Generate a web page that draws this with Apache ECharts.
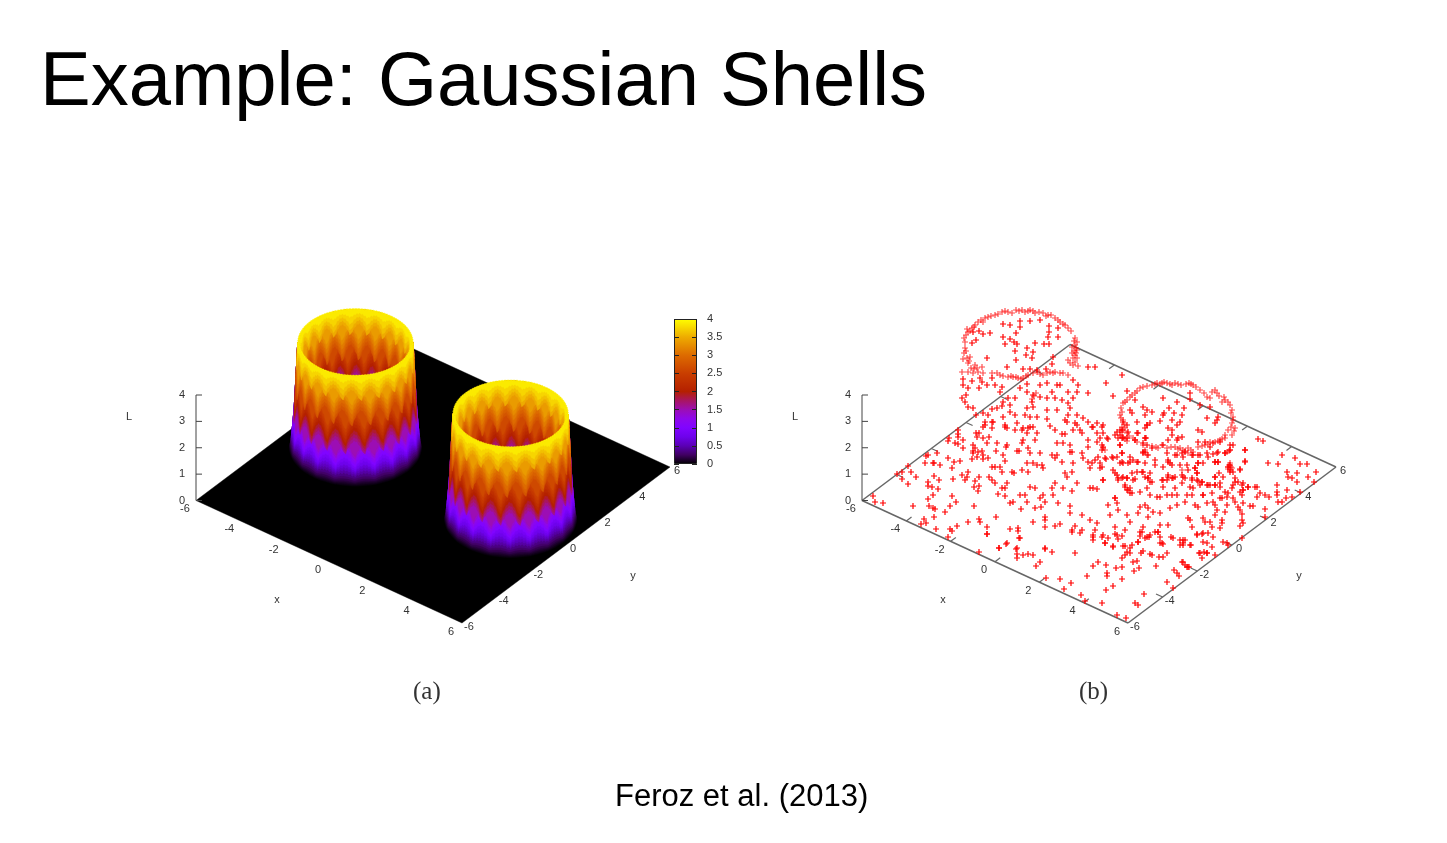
<!DOCTYPE html>
<html><head><meta charset="utf-8">
<style>html,body{margin:0;padding:0;background:#fff}#c{width:1447px;height:843px}</style>
<script src="https://cdn.jsdelivr.net/npm/echarts@6/dist/echarts.min.js"></script></head>
<body><div id="c"></div><script>
const xTicks=[-6,-4,-2,0,2,4,6];
const yTicks=[-6,-4,-2,0,2,4,6];
const lTicks=[0,1,2,3,4];
const shellCentresX=[-3.5,3.5];
const shellCentresY=[0,0];
const profileL=[0,0.25,0.5,1,1.5,2,3,4];
const profileOuterR=[2.36,2.3,2.27,2.22,2.18,2.15,2.1,2.05];
const profileInnerR=[1.7,1.72,1.75,1.8,1.82,1.85,1.9,1.98];
const wallLevels=[0.03,0.06,0.1,0.15,0.2,0.27,0.35,0.45,0.55,0.65,0.75,0.875,1,1.125,1.25,1.375,1.5,1.625,1.75,1.875,2,2.125,2.25,2.375,2.5,2.625,2.75,2.875,3,3.125,3.25,3.375,3.5,3.625,3.75,3.875];
const archShape=[0,0.3,0.55,0.75,0.9,1,1,0.9,0.75,0.55,0.3,0];
const archAmpL=[0,0.5,1,2,3,3.7,4];
const archAmp=[0,0.1,0.3,0.55,0.55,0.3,0];
const archPhaseL=[1.6,2.7,3.5,4.1];
const archPhase=[0,6,2,8];
const paletteL=[0,0.25,0.5,0.75,1,1.25,1.5,1.75,2,2.5,3,3.5,4];
const paletteRGB=[[0,0,0],[64,0,97],[90,0,180],[110,2,235],[128,4,255],[142,8,235],[156,14,180],[168,21,98],[180,32,0],[201,62,0],[221,107,0],[238,171,0],[255,255,0]];
const colourbarTicks=4;
// samples, in picture units
const ringSamples=[[965,342],[966,335],[968,332],[972,328],[975,325],[978,322],[985,318],[988,317],[995,315],[1005,311],[1012,313],[1016,310],[1022,310],[1025,312],[1030,310],[1035,313],[1043,313],[1048,315],[1055,318],[1060,322],[1065,325],[1068,328],[964,338],[967,329],[970,331],[974,327],[981,320],[983,322],[991,316],[998,314],[1002,312],[1008,312],[1019,311],[1028,311],[1033,311],[1039,312],[1046,316],[1051,315],[1058,320],[1063,324],[1071,331],[965,348],[964,353],[967,358],[963,359],[970,357],[968,363],[971,368],[975,365],[977,368],[982,367],[978,372],[983,373],[962,372],[968,372],[973,373],[966,351],[969,361],[974,369],[992,373],[997,373],[1003,376],[1008,377],[1013,377],[1018,378],[1023,378],[1028,375],[1037,372],[1043,375],[1050,372],[1055,372],[1060,373],[1068,375],[1000,375],[1011,376],[1016,377],[1021,379],[1026,376],[1033,373],[1040,374],[1047,373],[1053,373],[1063,373],[1075,338],[1077,342],[1075,345],[1072,347],[1077,350],[1072,353],[1075,355],[1077,358],[1070,363],[1073,365],[1078,366],[1068,360],[1074,341],[1076,348],[1074,351],[1076,353],[1073,358],[1075,362],[1152,385],[1157,383],[1162,383],[1167,383],[1172,385],[1178,384],[1189,383],[1193,385],[1215,390],[1217,393],[1207,397],[1210,398],[1225,400],[1228,402],[1222,402],[1232,410],[1233,417],[1232,423],[1235,428],[1228,430],[1232,435],[1225,435],[1155,384],[1160,384],[1164,382],[1170,384],[1175,383],[1181,385],[1186,384],[1191,384],[1196,387],[1200,390],[1204,393],[1212,392],[1219,396],[1224,397],[1230,405],[1231,413],[1233,420],[1231,427],[1234,431],[1143,387],[1140,388],[1135,393],[1132,395],[1127,400],[1123,403],[1122,412],[1120,415],[1123,420],[1122,427],[1125,428],[1122,432],[1127,433],[1133,438],[1137,442],[1145,438],[1143,445],[1145,450],[1147,455],[1158,448],[1162,445],[1167,448],[1147,386],[1137,391],[1130,397],[1125,402],[1121,408],[1121,418],[1124,424],[1123,430],[1129,436],[1135,440],[1175,447],[1180,448],[1183,450],[1188,448],[1193,452],[1188,453],[1198,447],[1205,445],[1210,442],[1215,442],[1220,440],[1225,438],[1227,452],[1230,450],[1171,447],[1178,449],[1185,451],[1191,450],[1202,446],[1208,444],[1218,441],[1222,439],[1229,451],[1152,446],[1156,447],[1229,465],[1231,467],[1228,469],[1230,463],[1232,468],[1228,467],[1182,470],[1125,439],[1127,441],[1123,437],[1105,450],[1103,448],[1036,393],[1034,396],[1032,399]];
const floorSamples=[[973,332],[979,331],[983,334],[990,333],[976,340],[972,343],[1003,324],[1010,325],[1020,327],[1020,321],[1030,321],[1040,320],[1049,326],[1058,328],[1049,332],[1048,337],[1058,337],[1016,333],[1003,337],[1010,339],[1014,342],[1017,344],[1005,344],[1035,343],[1044,344],[1049,344],[1027,348],[1015,351],[1033,352],[1026,355],[1032,358],[1016,360],[987,358],[1053,357],[1052,364],[1088,367],[1095,367],[1007,367],[1023,369],[1030,369],[1037,370],[1046,369],[980,378],[982,382],[987,385],[992,378],[995,385],[1002,387],[1000,392],[979,388],[963,379],[972,381],[963,385],[968,388],[966,395],[962,398],[965,402],[968,407],[973,408],[976,415],[983,413],[988,415],[992,409],[997,408],[1002,406],[1010,405],[1015,398],[1008,398],[1003,402],[1020,388],[1027,384],[1027,392],[1033,395],[1040,385],[1047,383],[1057,385],[1060,385],[1052,392],[1040,397],[1047,398],[1055,398],[1062,400],[1068,392],[1073,380],[1078,385],[1088,393],[1077,392],[1073,398],[1068,403],[1070,408],[1057,410],[1047,410],[1032,402],[1027,408],[1033,407],[1010,412],[1015,415],[1003,417],[985,422],[992,422],[983,427],[1005,427],[1025,415],[1037,417],[1047,419],[1030,417],[1068,415],[1077,415],[1083,418],[1088,422],[1077,425],[1097,423],[1093,427],[1065,420],[1030,427],[1023,428],
[1127,391],[1106,383],[1122,375],[1113,396],[1135,400],[1143,407],[1147,410],[1152,412],[1145,415],[1163,398],[1177,402],[1169,408],[1164,413],[1163,415],[1174,413],[1182,415],[1184,408],[1190,393],[1190,399],[1200,405],[1210,407],[1218,417],[1217,420],[1215,423],[1207,418],[1180,422],[1177,425],[1172,420],[1160,421],[1150,423],[1147,425],[1145,428],[1137,422],[1130,410],[1132,413],[1168,428],[1172,430],[1198,430],[1202,432],[1198,442],[1182,437],[1178,438],[1138,433],[1146,438],
[1102,427],[1103,433],[1117,432],[1122,430],[1120,435],[1118,438],[1123,438],[1120,445],[1103,447],[1102,450],[1108,439],[1122,453],[1117,457],[1112,457],[1106,459],[1102,467],[1130,457],[1133,460],[1128,463],[1123,463],[1120,463],[1143,452],[1138,462],[1145,463],[1155,460],[1168,460],[1175,455],[1183,457],[1193,455],[1200,455],[1208,457],[1215,462],[1218,462],[1198,463],[1195,468],[1197,473],[1188,470],[1180,465],[1170,463],[1163,467],[1150,473],[1143,472],[1137,472],[1132,473],[1123,477],[1118,478],[1113,470],[1117,475],[1103,480],[1127,478],[1133,480],[1148,478],[1150,482],[1168,477],[1173,478],[1167,480],[1183,477],[1192,478],[1197,480],[1202,482],[1215,477],[1223,477],[1235,482],[1240,470],[1228,467],[1230,472],[1245,462],[1245,450],[1258,439],[1217,453],[1225,453],[1208,485],[1215,485],[1220,487],[1233,485],[1242,485],[1248,487],[1257,487],[1243,490],[1225,492],[1212,493],[1203,495],[1190,487],[1163,487],[1163,480],[1150,495],[1140,492],[1130,488],[1125,485],[1127,490],[1132,493],[1115,498],[1160,497],[1172,495],[1192,495],[1200,485],[1182,483],[1222,498],[1240,492],
[873,496],[875,502],[883,503],[913,506],[928,499],[929,506],[933,508],[935,509],[934,517],[924,519],[926,523],[921,524],[936,529],[950,529],[952,531],[948,537],[957,526],[945,512],[950,506],[956,502],[952,496],[933,495],[932,487],[928,482],[928,486],[939,480],[934,476],[938,489],[916,477],[902,479],[908,484],[911,472],[902,472],[897,474],[908,466],[926,456],[928,455],[937,453],[925,463],[933,463],[934,463],[940,465],[948,458],[954,462],[960,461],[952,468],[962,475],[968,472],[967,477],[965,480],[953,479],[979,477],[975,481],[974,487],[979,486],[978,491],[974,506],[968,522],[979,519],[980,522],[996,517],[987,527],[987,534],[1010,529],[999,548],[1007,543],[1018,528],[1017,548],[989,477],[992,480],[995,483],[1007,483],[1002,488],[1005,488],[998,494],[1005,496],[1010,503],[1013,502],[1020,538],
[958,430],[958,434],[958,437],[949,438],[948,441],[955,443],[958,444],[963,440],[963,448],[973,445],[975,448],[973,451],[973,453],[978,452],[982,451],[972,459],[977,457],[983,455],[983,459],[988,458],[996,451],[997,443],[1003,455],[1005,461],[1007,445],[1006,447],[1017,451],[1019,451],[976,433],[979,433],[977,437],[983,438],[987,443],[989,437],[985,425],[992,428],[993,422],[1005,425],[1007,428],[1015,430],[1017,423],[1002,472],[1012,472],[1014,473],[992,467],[995,467],[1000,467],
[1022,430],[1027,433],[1028,428],[1033,427],[1037,433],[1050,426],[1055,430],[1062,434],[1065,434],[1073,430],[1080,430],[1082,433],[1067,422],[1075,423],[1092,427],[1103,425],[1097,433],[1100,438],[1097,442],[1102,445],[1107,438],[1088,440],[1115,435],[1120,430],[1123,422],[1127,425],[1128,432],[1122,438],[1120,445],[1127,438],[1135,440],[1137,433],[1147,425],[1145,438],[1143,443],[1147,445],[1152,448],[1163,445],[1168,440],[1172,435],[1177,440],[1167,453],[1177,455],[1145,452],[1143,453],[1148,455],[1122,453],[1113,458],[1105,458],[1098,457],[1095,460],[1092,463],[1088,462],[1083,458],[1082,453],[1088,447],[1070,445],[1063,443],[1057,443],[1052,455],[1055,458],[1057,455],[1070,452],[1072,452],[1062,462],[1040,453],[1028,448],[1030,453],[1023,440],[1022,443],[1035,440],[1027,463],[1022,470],[1028,472],[1033,463],[1037,465],[1042,465],[1043,468],[1065,473],[1072,472],[1073,463],[1067,477],[1100,468],[1100,463],[1090,468],[1115,473],[1122,462],[1130,462],[1137,462],[1142,472],[1145,477],[1148,478],[1152,482],[1155,465],[1168,462],[1172,465],[1175,477],[1172,478],[1168,475],[1162,480],[1135,479],[1127,478],[1122,478],[1118,480],[1103,480],[1077,483],[1055,483],[1052,488],[1030,487],[1035,488],[1063,488],[1072,491],[1090,488],[1093,488],[1097,489],[1125,487],[1128,490],[1130,493],[1147,488],[1157,497],[1167,495],[1175,488],[1177,495],[1115,498],[1117,503],[1108,505],[1118,510],[1140,507],[1145,505],[1148,508],[1138,513],[1148,517],[1153,512],[1160,513],[1170,508],[1177,505],[1110,515],[1127,515],[1097,523],[1095,530],[1075,526],[1072,530],[1070,513],[1070,506],[1058,503],[1043,495],[1040,498],[1045,502],[1053,495],[1027,502],[1020,495],[1025,495],[1035,508],[1041,507],[1021,509],[1033,522],[1045,517],[1045,520],[1045,527],[1055,526],[1060,524],[1082,515],[1090,520],[1082,530],[1115,527],[1125,530],[1130,522],[1143,527],[1142,532],[1160,525],[1168,525],[1158,532],[1147,537],[1117,535],[1108,538],[1093,537],[1102,537],[1105,543],[1113,547],[1123,546],[1130,548],[1138,542],[1162,543],[1173,538],[1045,548],
[1182,453],[1185,452],[1192,455],[1198,455],[1205,442],[1213,443],[1210,447],[1220,442],[1230,445],[1233,445],[1230,450],[1225,453],[1218,452],[1213,454],[1207,453],[1215,462],[1218,462],[1198,463],[1203,463],[1195,468],[1197,473],[1187,465],[1182,475],[1185,478],[1192,480],[1198,481],[1202,482],[1215,477],[1219,473],[1230,465],[1230,470],[1233,472],[1240,469],[1245,461],[1245,450],[1263,441],[1282,455],[1295,458],[1300,464],[1307,464],[1268,463],[1278,464],[1287,472],[1297,473],[1288,477],[1292,478],[1297,482],[1308,477],[1316,472],[1314,482],[1235,478],[1238,482],[1243,483],[1248,487],[1255,487],[1243,490],[1232,488],[1228,493],[1227,497],[1233,498],[1242,495],[1260,493],[1265,495],[1269,497],[1277,485],[1277,492],[1277,495],[1287,490],[1278,502],[1282,502],[1286,498],[1292,497],[1300,492],[1257,497],[1220,483],[1215,485],[1210,485],[1207,485],[1193,488],[1203,495],[1187,495],[1185,502],[1195,505],[1198,507],[1207,503],[1213,502],[1215,505],[1220,498],[1227,505],[1235,502],[1238,507],[1240,510],[1243,503],[1250,506],[1253,506],[1265,509],[1265,517],[1242,514],[1242,520],[1240,526],[1243,523],[1242,538],[1228,545],[1223,542],[1222,520],[1220,528],[1222,523],[1215,515],[1217,510],[1225,512],[1210,522],[1212,527],[1205,522],[1203,518],[1190,520],[1188,518],[1192,527],[1197,535],[1203,533],[1208,533],[1213,537],[1203,542],[1207,543],[1183,540],[1183,543],[1190,545],[1212,547],[1200,553],[1207,553],[1215,555],[1202,558],[1182,562],[1188,567],[1185,565],[1227,543],
[987,534],[979,552],[999,548],[1006,544],[1016,549],[1017,554],[1017,558],[1023,555],[1028,554],[1033,555],[1045,549],[1052,552],[1040,562],[1036,566],[1075,553],[1046,578],[1060,579],[1071,583],[1064,589],[1081,595],[1085,601],[1087,576],[1093,566],[1098,562],[1106,565],[1107,573],[1107,576],[1116,568],[1122,567],[1122,579],[1106,590],[1113,586],[1134,571],[1139,568],[1133,562],[1137,561],[1156,566],[1183,562],[1187,567],[1189,567],[1174,570],[1177,573],[1179,576],[1167,582],[1173,588],[1144,594],[1135,603],[1138,605],[1102,603],[1117,615],[1126,618],[1093,535],[1093,540],[1103,535],[1105,543],[1113,546],[1115,534],[1122,536],[1118,539],[1125,546],[1132,545],[1127,552],[1130,553],[1125,555],[1122,558],[1141,553],[1143,551],[1138,542],[1145,538],[1149,537],[1155,532],[1158,532],[1160,537],[1163,544],[1160,543],[1171,537],[1180,540],[1185,540],[1183,545],[1180,545],[1191,545],[1197,534],[1202,534],[1199,553],[1204,552],[1207,553],[1150,554],[1152,555],[1159,557],[1167,553],[1163,557],[1072,532],[1080,533],[1018,531],[1019,538],[1140,532],[1140,536],[1150,535]];

const panelOffsets=[0,666];
const originU=196,originV=500.5,exU=266/12,exV=122.5/12,eyU=208/12,eyV=-156/12,eL=105.5/4;
function project(x,y,L,off){return [originU+off+(x+6)*exU+(y+6)*eyU,originV+(x+6)*exV+(y+6)*eyV-L*eL];}
function interp(xs,ys,v){if(v<=xs[0])return ys[0];for(let i=1;i<xs.length;i++){if(v<=xs[i]){const t=(v-xs[i-1])/(xs[i]-xs[i-1]);return ys[i-1]+t*(ys[i]-ys[i-1]);}}return ys[ys.length-1];}
function palette(L){const c=[0,1,2].map(k=>Math.round(interp(paletteL,paletteRGB.map(p=>p[k]),L)));return 'rgb('+c.join(',')+')';}

const theta0=Math.atan2(eyU,exU);
const FACETS=120;
function wallPoint(cyl,inner,i,front,L){
  const th=(front?theta0-Math.PI:theta0)+Math.PI*i/FACETS;
  const r=interp(profileL,inner?profileInnerR:profileOuterR,L);
  return project(shellCentresX[cyl]+r*Math.cos(th),shellCentresY[cyl]+r*Math.sin(th),L,0);
}
function bandPoints(cyl,inner,front,lev){
  const pts=[],L0=wallLevels[lev];
  const phase=archPhase[archPhaseL.findIndex(v=>L0<v)];
  const amp=interp(archAmpL,archAmp,L0);
  for(let i=0;i<=FACETS;i++){
    const hatch=(i%2?0.025:-0.025)*(L0>0.4?1:0);
    const L=Math.min(4,Math.max(0,L0-amp*(1-archShape[(i+phase)%archShape.length])+hatch));
    pts.push(wallPoint(cyl,inner,i,front,L));
  }
  // climb the silhouette along the wall profile so the band stays inside it
  const above=wallLevels.filter(v=>v>L0);
  above.forEach(v=>pts.push(wallPoint(cyl,inner,FACETS,front,v)));
  for(let i=FACETS;i>=0;i-=2)pts.push(wallPoint(cyl,inner,i,front,4));
  above.slice().reverse().forEach(v=>pts.push(wallPoint(cyl,inner,0,front,v)));
  return pts;
}
function rimPoints(cyl){
  const a=[],b=[];
  for(let i=0;i<=240;i++){
    const th=2*Math.PI*i/240;
    const s=i%2?0.012:-0.012;
    a.push(project(shellCentresX[cyl]+(2.05+s)*Math.cos(th),shellCentresY[cyl]+(2.05+s)*Math.sin(th),4,0));
    b.unshift(project(shellCentresX[cyl]+(1.98+s)*Math.cos(th),shellCentresY[cyl]+(1.98+s)*Math.sin(th),4,0));
  }
  return a.concat(b);
}

// wall draw list: [cylinder, part(0 inner back,1 outer front,2 rim), level]
const wallRows=[];
[0,1].forEach(c=>{
  wallLevels.forEach((_,k)=>wallRows.push([c,0,k]));
  wallLevels.forEach((_,k)=>wallRows.push([c,1,k]));
  wallRows.push([c,2,0]);
});
function polyEl(api,pts,fill){
  return {type:'polygon',shape:{points:pts.map(p=>api.coord(p))},style:{fill:fill,stroke:fill,lineWidth:0.4}};
}
function seg(api,a,b,color,w){const p=api.coord(a),q=api.coord(b);return {type:'line',shape:{x1:p[0],y1:p[1],x2:q[0],y2:q[1]},style:{stroke:color,lineWidth:w}};}
function txt(api,p,dx,dy,text,size,color){const c=api.coord(p);return {type:'text',x:c[0]+dx,y:c[1]+dy,style:{text:String(text),fill:color,font:size+'px "Liberation Sans"',textAlign:'center',textVerticalAlign:'middle'}};}

const frameColor='#666',textColor='#333';
function frameRender(params,api){
  const panel=api.value(0),off=panelOffsets[panel];
  const kids=[];
  const A=project(-6,-6,0,off),B=project(6,-6,0,off),C=project(6,6,0,off),D=project(-6,6,0,off);
  if(panel===0){
    kids.push(polyEl(api,[A,B,C,D],'#000'));
  }else{
    [[A,B],[B,C],[C,D],[D,A]].forEach(e=>kids.push(seg(api,e[0],e[1],frameColor,1.5)));
    xTicks.slice(1,-1).forEach(x=>{
      kids.push(seg(api,project(x,-6,0,off),project(x,-5.7,0,off),frameColor,1.2));
      kids.push(seg(api,project(x,6,0,off),project(x,5.7,0,off),frameColor,1.2));
    });
    yTicks.slice(1,-1).forEach(y=>{
      kids.push(seg(api,project(6,y,0,off),project(5.7,y,0,off),frameColor,1.2));
      kids.push(seg(api,project(-6,y,0,off),project(-5.7,y,0,off),frameColor,1.2));
    });
  }
  kids.push(seg(api,A,project(-6,-6,4,off),'#444',1));
  lTicks.forEach(l=>{const p=project(-6,-6,l,off);kids.push(seg(api,p,[p[0]+6,p[1]],'#444',1));
    kids.push(txt(api,p,-14,0,l,11,textColor));});
  xTicks.forEach(x=>kids.push(txt(api,project(x,-6,0,off),-11,8.5,x,11,textColor)));
  yTicks.forEach(y=>kids.push(txt(api,project(6,y,0,off),7,4,y,11,textColor)));
  kids.push(txt(api,[277+off,600],0,0,'x',11,textColor));
  kids.push(txt(api,[633+off,576],0,0,'y',11,textColor));
  kids.push(txt(api,[129+off,417],0,0,'L',11,textColor));
  return {type:'group',children:kids};
}
function wallRender(params,api){
  const c=api.value(0),part=api.value(1),k=api.value(2);
  if(part===2)return polyEl(api,rimPoints(c),palette(3.9));
  return polyEl(api,bandPoints(c,part===0,part===1,k),palette(wallLevels[k]));
}
const plusSymbol='path://M4 0h2v4h4v2h-4v4h-2v-4h-4v-2h4z';
const stops=[];
paletteL.forEach(l=>stops.push({offset:1-l/4,color:palette(l)}));
stops.reverse();

const chart=echarts.init(document.getElementById('c'),null,{renderer:'canvas'});
chart.setOption({
  animation:false,backgroundColor:'#fff',
  title:[
    {text:'Example: Gaussian Shells',left:35,top:41,textStyle:{fontFamily:'Liberation Sans',fontSize:76,fontWeight:'normal',color:'#000'}},
    {text:'Feroz et al. (2013)',left:610,top:777,textStyle:{fontFamily:'Liberation Sans',fontSize:31,fontWeight:'normal',color:'#000'}},
    {text:'(a)',left:408,top:675,textStyle:{fontFamily:'Liberation Serif',fontSize:25,fontWeight:'normal',color:'#333'}},
    {text:'(b)',left:1074,top:675,textStyle:{fontFamily:'Liberation Serif',fontSize:25,fontWeight:'normal',color:'#333'}}
  ],
  grid:[{left:0,top:0,width:1447,height:843},{left:674,top:319,width:23,height:145}],
  xAxis:[{type:'value',min:0,max:1447,show:false,gridIndex:0},{type:'category',data:['L'],show:false,gridIndex:1}],
  yAxis:[{type:'value',min:0,max:843,inverse:true,show:false,gridIndex:0},
    {type:'value',gridIndex:1,min:0,max:colourbarTicks,interval:0.5,position:'right',z:5,splitLine:{show:false},axisLine:{show:false},
     axisTick:{show:true,inside:true,length:5,lineStyle:{color:'#222'}},axisLabel:{show:true,margin:10,fontSize:11,fontFamily:'Liberation Sans',color:textColor}},
    {type:'value',gridIndex:1,min:0,max:colourbarTicks,interval:0.5,position:'left',z:5,splitLine:{show:false},axisLine:{show:false},
     axisTick:{show:true,inside:true,length:5,lineStyle:{color:'#222'}},axisLabel:{show:false}}],
  series:[
    {type:'custom',xAxisIndex:0,yAxisIndex:0,coordinateSystem:'cartesian2d',clip:false,silent:true,z:2,progressive:0,renderItem:frameRender,data:[[0],[1]],encode:{x:[],y:[]}},
    {type:'custom',xAxisIndex:0,yAxisIndex:0,coordinateSystem:'cartesian2d',clip:false,silent:true,z:3,progressive:0,renderItem:wallRender,data:wallRows,encode:{x:[],y:[]}},
    {type:'scatter',xAxisIndex:0,yAxisIndex:0,z:4,silent:true,symbol:plusSymbol,symbolSize:6,itemStyle:{color:'#ff0000',opacity:0.7},data:ringSamples,progressive:0},
    {type:'scatter',xAxisIndex:0,yAxisIndex:0,z:5,silent:true,symbol:plusSymbol,symbolSize:6,itemStyle:{color:'#ff0000',opacity:1},data:floorSamples,progressive:0},
    {type:'bar',xAxisIndex:1,yAxisIndex:1,barWidth:'100%',silent:true,data:[4],
     itemStyle:{borderColor:'#222',borderWidth:1,color:{type:'linear',x:0,y:0,x2:0,y2:1,colorStops:stops}}}
  ]
});
</script></body></html>
